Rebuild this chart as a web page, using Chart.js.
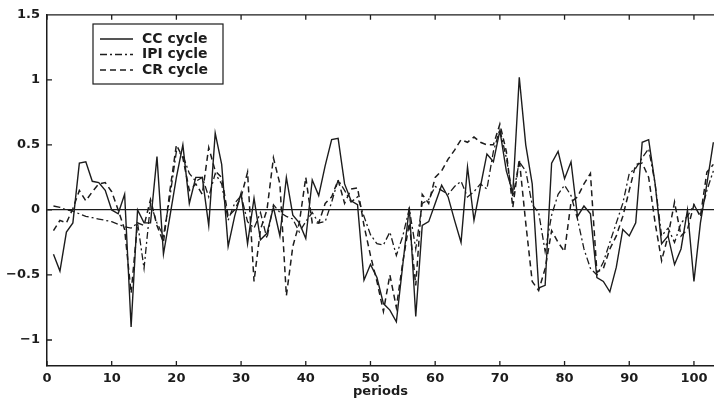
<!DOCTYPE html>
<html>
<head>
<meta charset="utf-8">
<script src="https://cdn.jsdelivr.net/npm/chart.js@4.4.0/dist/chart.umd.min.js"></script>
<style>
  html, body { margin: 0; padding: 0; background: #fff; }
</style>
</head>
<body>
<canvas id="cycles" width="714" height="404"></canvas>
<script>
// periods 1..103 (the plot is cut at the right edge)
var periods = [];
for (var i = 1; i <= 103; i++) periods.push(i);

var ccCycle = [
  -0.34, -0.47, -0.17, -0.10, 0.36, 0.37, 0.22, 0.21, 0.15, 0.00,
  -0.03, 0.12, -0.90, 0.00, -0.10, -0.10, 0.41, -0.34, -0.05, 0.25,
  0.50, 0.05, 0.25, 0.25, -0.12, 0.59, 0.35, -0.28, -0.05, 0.13,
  -0.26, 0.09, -0.23, -0.18, 0.02, -0.20, 0.25, -0.04, -0.10, -0.22,
  0.23, 0.11, 0.34, 0.54, 0.55, 0.20, 0.07, 0.04, -0.54, -0.42,
  -0.52, -0.72, -0.77, -0.86, -0.42, 0.02, -0.82, -0.12, -0.09, 0.05,
  0.19, 0.10, -0.08, -0.25, 0.33, -0.08, 0.18, 0.43, 0.37, 0.61,
  0.30, 0.13, 1.02, 0.50, 0.20, -0.60, -0.58, 0.36, 0.45, 0.24,
  0.37, -0.05, 0.03, -0.03, -0.52, -0.55, -0.63, -0.44, -0.15, -0.20,
  -0.10, 0.52, 0.54, 0.20, -0.26, -0.20, -0.42, -0.30, 0.00, -0.55,
  -0.10, 0.20, 0.52
];

var ipiCycle = [
  0.03, 0.02, 0.00, -0.01, -0.03, -0.05, -0.06, -0.07, -0.08, -0.09,
  -0.11, -0.13, -0.14, -0.10, -0.45, 0.05, -0.10, -0.20, 0.10, 0.45,
  0.42, 0.28, 0.22, 0.25, 0.10, 0.28, 0.20, -0.08, 0.05, 0.11,
  -0.09, -0.14, -0.02, -0.22, 0.04, -0.02, -0.05, -0.07, -0.17, -0.09,
  -0.02, -0.10, -0.09, 0.06, 0.23, 0.15, 0.06, 0.10, -0.05, -0.19,
  -0.26, -0.27, -0.17, -0.35, -0.20, 0.01, -0.30, 0.05, 0.08, 0.18,
  0.15, 0.12, 0.18, 0.22, 0.10, 0.14, 0.20, 0.16, 0.45, 0.62,
  0.40, 0.10, 0.37, 0.30, 0.04, -0.02, -0.32, -0.04, 0.12, 0.19,
  0.11, -0.07, -0.30, -0.45, -0.50, -0.40, -0.25, -0.10, 0.05, 0.28,
  0.32, 0.40, 0.47, 0.20, -0.20, -0.14, -0.25, -0.10, -0.05, 0.04,
  -0.05, 0.15, 0.30
];

var crCycle = [
  -0.16, -0.08, -0.10, 0.01, 0.15, 0.07, 0.14, 0.20, 0.21, 0.14,
  0.00, -0.15, -0.64, -0.10, -0.12, 0.08, -0.12, -0.25, 0.15, 0.50,
  0.40, 0.15, 0.20, 0.12, 0.48, 0.30, 0.25, -0.05, 0.00, 0.10,
  0.29, -0.55, -0.15, 0.00, 0.40, 0.20, -0.66, -0.28, -0.10, 0.25,
  -0.10, -0.10, 0.05, 0.10, 0.23, 0.05, 0.16, 0.17, -0.12, -0.35,
  -0.55, -0.78, -0.50, -0.75, -0.40, -0.10, -0.58, 0.12, 0.05, 0.25,
  0.30, 0.39, 0.46, 0.54, 0.52, 0.56, 0.52, 0.50, 0.50, 0.66,
  0.45, 0.02, 0.39, -0.10, -0.55, -0.62, -0.45, -0.16, -0.25, -0.32,
  0.06, 0.10, 0.20, 0.28, -0.48, -0.45, -0.30, -0.20, -0.05, 0.15,
  0.35, 0.36, 0.25, -0.10, -0.39, -0.20, 0.06, -0.20, -0.15, 0.04,
  -0.05, 0.29, 0.35
];

var xTicks = [0, 10, 20, 30, 40, 50, 60, 70, 80, 90, 100];
var yTicks = [-1, -0.5, 0, 0.5, 1, 1.5];

var ink = '#1c1c1c';
var font = '"DejaVu Sans", sans-serif';

function pts(vals) {
  return vals.map(function (v, i) { return { x: periods[i], y: v }; });
}

// inward tick marks and the top frame line, like the printed figure
var frameTicks = {
  id: 'frameTicks',
  afterDraw: function (chart) {
    var ctx = chart.ctx, a = chart.chartArea;
    var xs = chart.scales.x, ys = chart.scales.y;
    ctx.save();
    ctx.strokeStyle = ink;
    ctx.lineWidth = 1.3;
    ctx.beginPath();
    ctx.moveTo(a.left, a.top);
    ctx.lineTo(a.right, a.top);
    xTicks.forEach(function (v) {
      var px = xs.getPixelForValue(v);
      ctx.moveTo(px, a.bottom); ctx.lineTo(px, a.bottom - 5);
      ctx.moveTo(px, a.top); ctx.lineTo(px, a.top + 5);
    });
    yTicks.forEach(function (v) {
      var py = ys.getPixelForValue(v);
      ctx.moveTo(a.left, py); ctx.lineTo(a.left + 5, py);
    });
    ctx.stroke();
    ctx.restore();
  }
};

// boxed legend in the upper left of the plot
var boxLegend = {
  id: 'boxLegend',
  afterDraw: function (chart) {
    var ctx = chart.ctx;
    var x = 93, y = 24, w = 130, h = 60;
    ctx.save();
    ctx.fillStyle = '#fff';
    ctx.fillRect(x, y, w, h);
    ctx.strokeStyle = ink;
    ctx.lineWidth = 1.2;
    ctx.strokeRect(x, y, w, h);
    chart.data.datasets.forEach(function (ds, i) {
      var ly = y + 15 + i * 15.5;
      ctx.setLineDash(ds.borderDash || []);
      ctx.lineWidth = ds.borderWidth;
      ctx.beginPath();
      ctx.moveTo(x + 7, ly);
      ctx.lineTo(x + 40, ly);
      ctx.stroke();
      ctx.setLineDash([]);
      ctx.fillStyle = ink;
      ctx.font = 'bold 14px ' + font;
      ctx.textBaseline = 'middle';
      ctx.fillText(ds.label, x + 49, ly);
    });
    ctx.restore();
  }
};

new Chart(document.getElementById('cycles'), {
  type: 'line',
  data: {
    datasets: [{
      label: 'CC cycle',
      data: pts(ccCycle),
      borderColor: ink,
      borderWidth: 1.4
    }, {
      label: 'IPI cycle',
      data: pts(ipiCycle),
      borderColor: ink,
      borderWidth: 1.3,
      borderDash: [7, 3, 2, 3]
    }, {
      label: 'CR cycle',
      data: pts(crCycle),
      borderColor: ink,
      borderWidth: 1.5,
      borderDash: [6, 4]
    }]
  },
  options: {
    responsive: false,
    animation: false,
    layout: { padding: { top: 13, right: 0 } },
    elements: { point: { radius: 0 }, line: { tension: 0 } },
    plugins: { legend: { display: false }, tooltip: { enabled: false } },
    scales: {
      x: {
        type: 'linear',
        min: 0,
        max: 103.1,
        afterBuildTicks: function (axis) {
          axis.ticks = xTicks.map(function (v) { return { value: v }; });
        },
        afterFit: function (axis) { axis.height = 38; },
        grid: { display: false, drawTicks: false },
        border: { color: ink, width: 1.5 },
        ticks: { color: ink, padding: 5, maxRotation: 0, font: { family: font, size: 13, weight: 'bold' } },
        title: { display: true, text: 'periods', color: ink, padding: { top: 0, bottom: 5 }, font: { family: font, size: 13, weight: 'bold' } }
      },
      y: {
        min: -1.2,
        max: 1.5,
        afterBuildTicks: function (axis) {
          axis.ticks = yTicks.map(function (v) { return { value: v }; });
        },
        afterFit: function (axis) { axis.width = 47; },
        grid: {
          drawTicks: false,
          color: function (c) { return c.tick && c.tick.value === 0 ? ink : 'rgba(0,0,0,0)'; },
          lineWidth: 1.3
        },
        border: { color: ink, width: 1.5 },
        ticks: {
          color: ink,
          padding: 7,
          font: { family: font, size: 13, weight: 'bold' },
          callback: function (v) { return v < 0 ? '\u2212' + Math.abs(v) : String(v); }
        }
      }
    }
  },
  plugins: [frameTicks, boxLegend]
});
</script>
</body>
</html>
